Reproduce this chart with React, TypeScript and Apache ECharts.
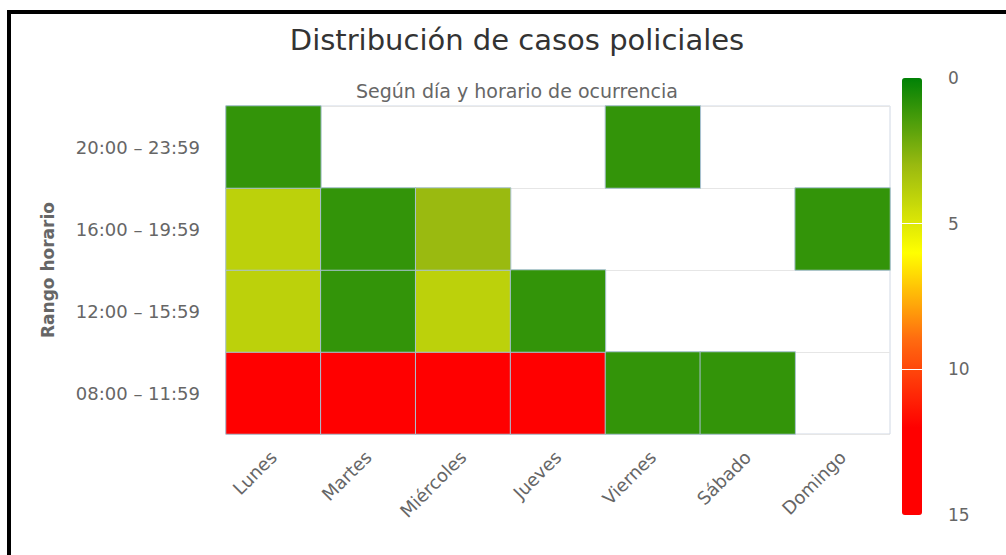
import React, { useEffect, useRef } from "react";
import * as echarts from "echarts";

const titleText = "Distribución de casos policiales";
const subtitleText = "Según día y horario de ocurrencia";
const yAxisName = "Rango horario";

const days = ["Lunes", "Martes", "Miércoles", "Jueves", "Viernes", "Sábado", "Domingo"];
const ranges = ["08:00 – 11:59", "12:00 – 15:59", "16:00 – 19:59", "20:00 – 23:59"];

// cases per day for each time range (null = no cases / empty cell)
const casos0800 = [13, 12, 14, 13, 1, 1, null];
const casos1200 = [4, 1, 4, 1, null, null, null];
const casos1600 = [4, 1, 3, null, null, null, 1];
const casos2000 = [1, null, null, null, 1, null, null];

const colorMin = 0;
const colorMax = 15;
const colorTickInterval = 5;
const colorStops = ["#008105", "#9aba10", "#ffff00", "#ff6a10", "#ff0000", "#ff0000"];

const FONT = "'DejaVu Sans', Verdana, sans-serif";

export default function App() {
  const ref = useRef<HTMLDivElement>(null);

  useEffect(() => {
    if (!ref.current) return;
    const chart = echarts.init(ref.current, undefined, { renderer: "svg" });
    const rows = [casos0800, casos1200, casos1600, casos2000];
    const data: any[] = [];
    rows.forEach((row, yi) => {
      row.forEach((v, xi) => {
        if (v !== null && v !== undefined) data.push([xi, yi, v]);
      });
    });

    chart.setOption({
      animation: false,
      backgroundColor: "#ffffff",
      textStyle: { fontFamily: FONT },
      title: [
        {
          text: titleText,
          left: 512,
          top: 20,
          textAlign: "center",
          textStyle: { fontFamily: FONT, fontSize: 29, fontWeight: "normal", color: "#333333" },
        },
        {
          text: subtitleText,
          left: 512,
          top: 76,
          textAlign: "center",
          textStyle: { fontFamily: FONT, fontSize: 19, fontWeight: "normal", color: "#666666" },
        },
      ],
      grid: [
        {
          left: 226,
          top: 106,
          width: 664,
          height: 328,
          show: true,
          borderColor: "#d0d8e4",
          borderWidth: 1,
          backgroundColor: "#ffffff",
          z: 0,
        },
        { left: 902, top: 78, width: 20, height: 437, show: false },
      ],
      xAxis: [
        {
          type: "category",
          data: days,
          gridIndex: 0,
          axisLine: { show: false },
          axisTick: { show: false },
          splitLine: { show: false },
          axisLabel: {
            rotate: 45,
            margin: 20,
            color: "#666666",
            fontSize: 18,
            fontFamily: FONT,
          },
        },
        { type: "value", gridIndex: 1, show: false },
      ],
      yAxis: [
        {
          type: "category",
          data: ranges,
          gridIndex: 0,
          name: yAxisName,
          nameLocation: "middle",
          nameRotate: 90,
          nameGap: 170,
          nameTextStyle: { color: "#666666", fontSize: 17, fontWeight: "bold", fontFamily: FONT },
          axisLine: { show: false },
          axisTick: { show: false },
          splitLine: { show: true, lineStyle: { color: "#e6e6e6", width: 1 } },
          axisLabel: { color: "#666666", fontSize: 18, margin: 26, fontFamily: FONT },
        },
        {
          type: "value",
          gridIndex: 1,
          min: colorMin,
          max: colorMax,
          interval: colorTickInterval,
          inverse: true,
          position: "right",
          z: 10,
          axisLine: { show: false },
          axisTick: { show: false },
          splitLine: {
            show: true,
            showMinLine: false,
            showMaxLine: false,
            lineStyle: { color: "#ffffff", width: 1 },
          },
          axisLabel: { color: "#666666", fontSize: 17, margin: 26, fontFamily: FONT },
        },
      ],
      visualMap: {
        type: "continuous",
        min: colorMin,
        max: colorMax,
        orient: "vertical",
        inverse: true,
        left: 902,
        top: 78,
        itemWidth: 20,
        itemHeight: 437,
        padding: 0,
        calculable: false,
        hoverLink: false,
        seriesIndex: 0,
        inRange: { color: colorStops },
        z: 4,
      },
      series: [
        {
          type: "heatmap",
          xAxisIndex: 0,
          yAxisIndex: 0,
          data,
          itemStyle: { borderColor: "#a9c2d2", borderWidth: 1 },
          label: { show: false },
          emphasis: { disabled: true },
        },
      ],
    });
    return () => chart.dispose();
  }, []);

  return (
    <div style={{ position: "fixed", left: 0, top: 0, width: 1006, height: 555, background: "#fff" }}>
      <div ref={ref} style={{ position: "absolute", left: 0, top: 0, width: 1006, height: 555 }} />
      <div style={{ position: "absolute", left: 7, top: 10, width: 999, height: 4, background: "#000" }} />
      <div style={{ position: "absolute", left: 7, top: 10, width: 4, height: 545, background: "#000" }} />
    </div>
  );
}
